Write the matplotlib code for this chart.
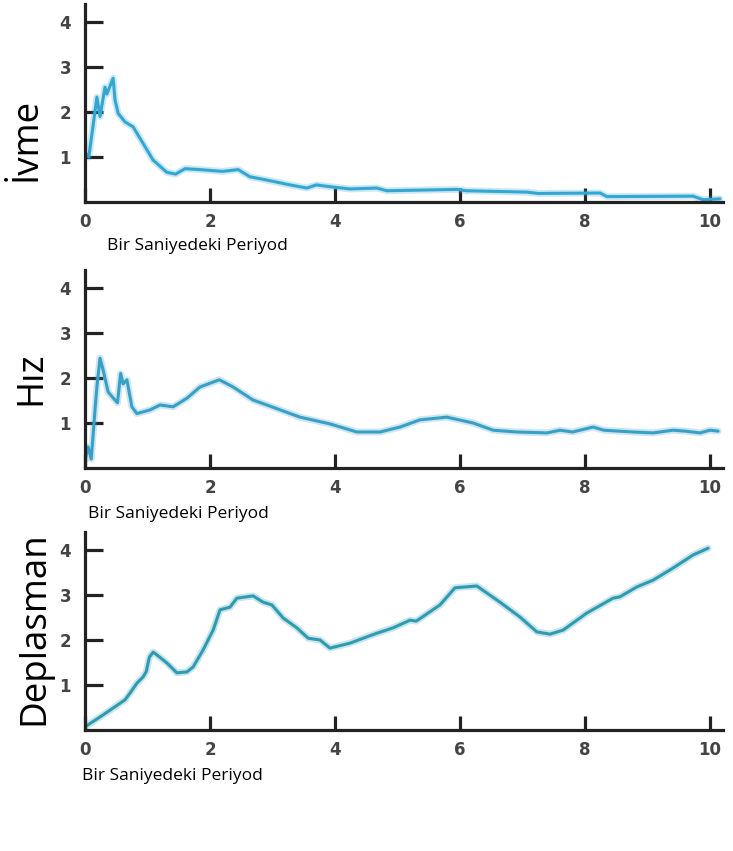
import matplotlib
matplotlib.use("Agg")
import matplotlib.pyplot as plt

# ---- data ----
period_ivme = [0.0, 0.06, 0.12, 0.19, 0.24, 0.32, 0.35, 0.45, 0.48, 0.53, 0.64, 0.77, 0.93,
               1.09, 1.31, 1.45, 1.6, 1.84, 2.2, 2.45, 2.64, 2.9, 3.28, 3.55, 3.7, 3.92,
               4.24, 4.67, 4.83, 5.95, 6.1, 7.07, 7.25, 8.24, 8.35, 9.73, 9.89, 10.16]
ivme = [1.1, 1.0, 1.6, 2.33, 1.9, 2.55, 2.4, 2.75, 2.27, 1.97, 1.78, 1.67, 1.3,
        0.93, 0.66, 0.62, 0.74, 0.72, 0.68, 0.72, 0.56, 0.49, 0.38, 0.31, 0.38, 0.34,
        0.29, 0.31, 0.25, 0.28, 0.25, 0.22, 0.19, 0.2, 0.12, 0.13, 0.05, 0.07]

period_hiz = [0.0, 0.05, 0.1, 0.16, 0.19, 0.24, 0.29, 0.37, 0.48, 0.52, 0.57, 0.61, 0.67,
              0.75, 0.83, 1.04, 1.2, 1.41, 1.63, 1.84, 2.05, 2.15, 2.37, 2.69, 2.91, 3.44,
              3.92, 4.35, 4.72, 5.04, 5.36, 5.79, 6.21, 6.53, 6.91, 7.39, 7.6, 7.8, 8.13,
              8.3, 8.77, 9.09, 9.41, 9.6, 9.84, 10.0, 10.13]
hiz = [0.18, 0.47, 0.2, 1.29, 1.8, 2.44, 2.18, 1.69, 1.51, 1.45, 2.1, 1.87, 1.96,
       1.36, 1.21, 1.29, 1.4, 1.36, 1.55, 1.8, 1.91, 1.96, 1.8, 1.51, 1.4, 1.13,
       0.98, 0.8, 0.8, 0.91, 1.07, 1.13, 1.0, 0.84, 0.8, 0.78, 0.84, 0.8, 0.91,
       0.84, 0.8, 0.78, 0.84, 0.82, 0.78, 0.84, 0.82]

period_dep = [0.0, 0.24, 0.4, 0.64, 0.72, 0.83, 0.93, 0.98, 1.03, 1.09, 1.14, 1.31, 1.47,
              1.63, 1.73, 1.89, 2.05, 2.16, 2.32, 2.43, 2.69, 2.85, 2.99, 3.17, 3.39, 3.57,
              3.76, 3.92, 4.24, 4.51, 4.67, 4.93, 5.2, 5.3, 5.68, 5.92, 6.27, 6.64, 6.96,
              7.23, 7.44, 7.65, 8.03, 8.45, 8.56, 8.83, 9.09, 9.41, 9.73, 9.97]
deplasman = [0.07, 0.29, 0.44, 0.67, 0.82, 1.04, 1.18, 1.3, 1.62, 1.73, 1.68, 1.49, 1.27,
             1.29, 1.4, 1.78, 2.22, 2.67, 2.73, 2.93, 2.98, 2.84, 2.78, 2.49, 2.27, 2.04,
             2.0, 1.82, 1.93, 2.07, 2.15, 2.27, 2.44, 2.42, 2.78, 3.16, 3.2, 2.84, 2.51,
             2.18, 2.13, 2.22, 2.6, 2.93, 2.96, 3.18, 3.33, 3.6, 3.89, 4.04]

x_ticks = [0, 2, 4, 6, 8, 10]
y_ticks = [1, 2, 3, 4]
x_label = "Bir Saniyedeki Periyod"
panel_titles = ["İvme", "Hız", "Deplasman"]

W, H = 733, 851
fig = plt.figure(figsize=(W / 100, H / 100), dpi=100)

def fx(px):
    return px / W

def fy(py):
    return 1 - py / H

panels = [
    # (x data, y data, color, axis bottom px, ylabel pos, xlabel pos)
    (period_ivme, ivme, "#33a6d2", 202, (27, 139), (107, 246)),
    (period_hiz, hiz, "#389fc6", 468, (31, 378), (88, 514)),
    (period_dep, deplasman, "#2f9bb0", 730, (34, 628), (82, 776)),
]

left_px, right_px = 85, 722.5
ax_h_px = 198

for (xs, ys, col, bottom_px, ylab, xlab), title in zip(panels, panel_titles):
    ax = fig.add_axes([fx(left_px), fy(bottom_px), (right_px - left_px) / W, ax_h_px / H])
    ax.plot(xs, ys, color=col, lw=5, alpha=0.25, solid_capstyle="round", solid_joinstyle="round")
    ax.plot(xs, ys, color=col, lw=2.2, solid_capstyle="round", solid_joinstyle="round")
    ax.set_xlim(0, 10.2)
    ax.set_ylim(0, 4.4)
    for s in ["top", "right"]:
        ax.spines[s].set_visible(False)
    for s in ["left", "bottom"]:
        ax.spines[s].set_linewidth(2.3)
        ax.spines[s].set_color("#222222")
    ax.set_xticks(x_ticks)
    ax.set_yticks(y_ticks)
    ax.tick_params(axis="y", direction="in", length=13, width=2.3, color="#222222",
                   pad=10, labelsize=12, labelcolor="#444444")
    ax.tick_params(axis="x", direction="in", length=10, width=2.3, color="#222222",
                   pad=8, labelsize=12, labelcolor="#444444")
    for lab in ax.get_xticklabels() + ax.get_yticklabels():
        lab.set_fontweight("bold")
    ax.patch.set_alpha(0)
    fig.text(fx(ylab[0]), fy(ylab[1]), title, rotation=90, ha="center", va="center",
             fontsize=26.5, family="Open Sans", color="black")
    fig.text(fx(xlab[0]), fy(xlab[1]), x_label, ha="left", va="center",
             fontsize=12.5, family="Open Sans", color="black")

fig.savefig("out.png", dpi=100)
